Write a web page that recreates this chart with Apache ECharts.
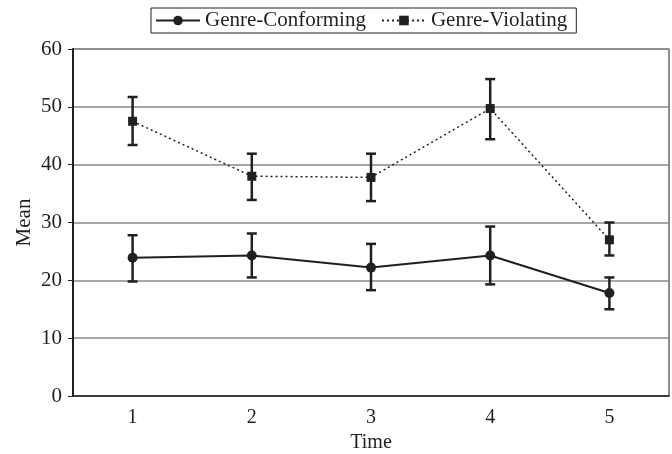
<!DOCTYPE html>
<html>
<head>
<meta charset="utf-8">
<script src="https://cdn.jsdelivr.net/npm/echarts@6/dist/echarts.min.js"></script>
<style>
  html, body { margin: 0; padding: 0; background: #fff; }
  #main { width: 672px; height: 454px; }
</style>
</head>
<body>
<div id="main"></div>
<script>
var times = ['1', '2', '3', '4', '5']

var conformMean = [23.9, 24.3, 22.2, 24.3, 17.8]
var conformLow = [19.8, 20.5, 18.3, 19.3, 15.0]
var conformHigh = [27.8, 28.1, 26.3, 29.3, 20.5]

var violateMean = [47.5, 38.0, 37.8, 49.7, 27.0]
var violateLow = [43.4, 33.9, 33.7, 44.4, 24.3]
var violateHigh = [51.7, 41.9, 41.9, 54.8, 30.0]

var yTicks = { min: 0, max: 60, interval: 10 }

var font = 'Liberation Serif'
var ink = '#231f20'

function errorBars(low, high) {
  var data = low.map(function (v, i) { return [i, v, high[i]] })
  return {
    type: 'custom',
    data: data,
    z: 5,
    silent: true,
    renderItem: function (params, api) {
      var lo = api.coord([api.value(0), api.value(1)])
      var hi = api.coord([api.value(0), api.value(2)])
      var w = 5
      var style = { stroke: ink, lineWidth: 2.5 }
      return {
        type: 'group',
        children: [
          { type: 'line', shape: { x1: lo[0], y1: lo[1], x2: hi[0], y2: hi[1] }, style: style },
          { type: 'line', shape: { x1: lo[0] - w, y1: lo[1], x2: lo[0] + w, y2: lo[1] }, style: style },
          { type: 'line', shape: { x1: hi[0] - w, y1: hi[1], x2: hi[0] + w, y2: hi[1] }, style: style }
        ]
      }
    }
  }
}

var chart = echarts.init(document.getElementById('main'))
chart.setOption({
  animation: false,
  backgroundColor: '#fff',
  textStyle: { fontFamily: font },
  legend: {
    left: 151,
    top: 8,
    padding: [2, 9, 2, 4],
    itemGap: 15,
    itemWidth: 44,
    itemHeight: 12,
    borderColor: ink,
    borderWidth: 1,
    textStyle: { fontFamily: font, fontSize: 21, color: ink },
    data: ['Genre-Conforming', 'Genre-Violating']
  },
  grid: {
    left: 73,
    right: 3,
    top: 49,
    bottom: 58,
    outerBoundsMode: 'none',
    containLabel: false,
    show: true,
    borderColor: '#444',
    borderWidth: 1.2
  },
  xAxis: {
    type: 'category',
    data: times,
    name: 'Time',
    nameLocation: 'middle',
    nameGap: 37,
    nameMoveOverlap: false,
    nameTextStyle: { fontFamily: font, fontSize: 20, color: ink },
    axisLine: { lineStyle: { color: ink, width: 1.5 } },
    axisTick: { show: false },
    axisLabel: { fontFamily: font, fontSize: 20, color: ink, margin: 12 }
  },
  yAxis: {
    type: 'value',
    min: yTicks.min,
    max: yTicks.max,
    interval: yTicks.interval,
    name: 'Mean',
    nameLocation: 'middle',
    nameGap: 38,
    nameMoveOverlap: false,
    nameTextStyle: { fontFamily: font, fontSize: 21, color: ink },
    axisLine: { show: true, lineStyle: { color: ink, width: 2 } },
    axisTick: { show: true, length: 5, lineStyle: { color: ink, width: 1 } },
    axisLabel: { fontFamily: font, fontSize: 21, color: ink, margin: 11 },
    splitLine: { lineStyle: { color: '#8a8a8a', width: 1.5 } }
  },
  series: [
    {
      name: 'Genre-Conforming',
      type: 'line',
      data: conformMean,
      symbol: 'circle',
      symbolSize: 10,
      z: 6,
      itemStyle: { color: ink },
      lineStyle: { color: ink, width: 2 }
    },
    {
      name: 'Genre-Violating',
      type: 'line',
      data: violateMean,
      symbol: 'rect',
      symbolSize: 9,
      z: 6,
      itemStyle: { color: ink },
      lineStyle: { color: ink, width: 1.5, type: [2, 3] }
    },
    errorBars(conformLow, conformHigh),
    errorBars(violateLow, violateHigh)
  ]
})
</script>
</body>
</html>
